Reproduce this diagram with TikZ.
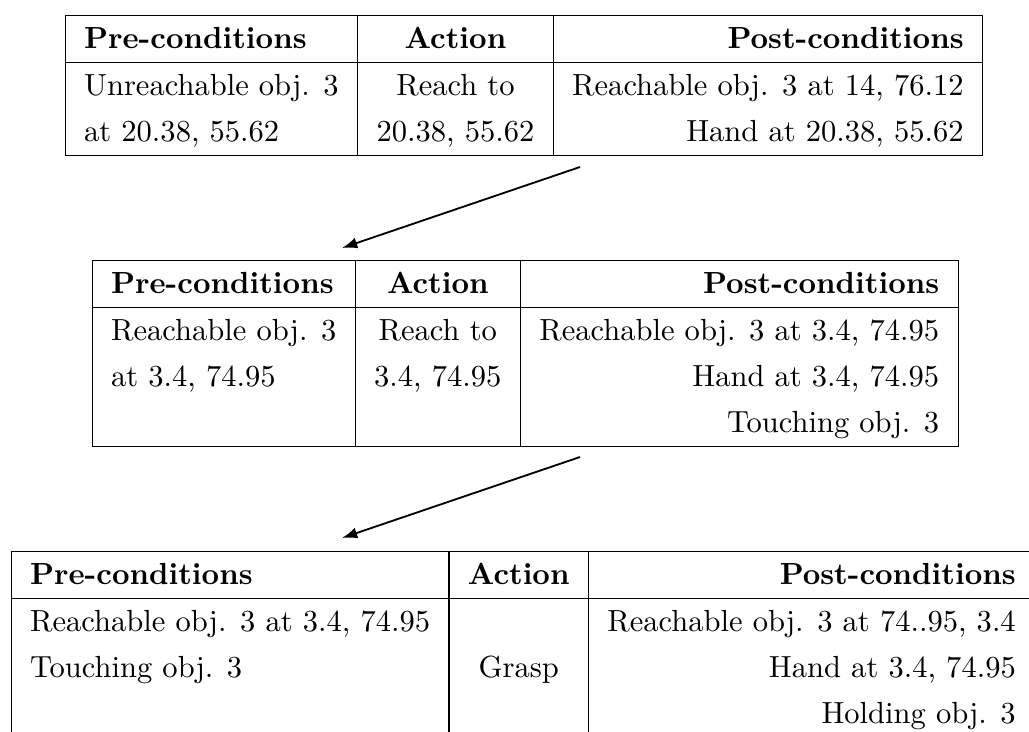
\documentclass[tikz,border=0pt]{standalone}
\usepackage{array}
\usetikzlibrary{arrows.meta}
\renewcommand{\arraystretch}{1.255}

\begin{document}
\begin{tikzpicture}[x=0.3275pt,y=-0.3275pt,
    plan/.style={inner sep=0pt, anchor=north west},
    step arrow/.style={semithick, -{Latex[length=5pt,width=3.6pt]}}]
\useasboundingbox (0,0) rectangle (1029,731);

            \node[plan] (t1) at (64,14) {\begin{tabular}{|l|c|r|}
                \hline
                \textbf{Pre-conditions} & \textbf{Action} & \textbf{Post-conditions}\\
                \hline
                Unreachable obj. 3 & Reach to & Reachable obj. 3 at 14, 76.12\\
                at 20.38, 55.62 & 20.38, 55.62 & Hand at 20.38, 55.62\\
                \hline
            \end{tabular}};

            \node[plan] (t2) at (91,259) {\begin{tabular}{|l|c|r|}
                \hline
                \textbf{Pre-conditions} & \textbf{Action} & \textbf{Post-conditions}\\
                \hline
                Reachable obj. 3 & Reach to & Reachable obj. 3 at 3.4, 74.95\\
                at 3.4, 74.95 & 3.4, 74.95 & Hand at 3.4, 74.95\\
                 & & Touching obj. 3\\
                \hline
            \end{tabular}};

            \node[plan] (t3) at (10,550) {\begin{tabular}{|l|c|r|}
                \hline
                \textbf{Pre-conditions} & \textbf{Action} & \textbf{Post-conditions}\\
                \hline
                Reachable obj. 3 at 3.4, 74.95 & & Reachable obj. 3 at 74..95, 3.4\\
                Touching obj. 3 & Grasp & Hand at 3.4, 74.95\\
                 & & Holding obj. 3\\
                \hline
            \end{tabular}};

            \coordinate (from1) at (580,167);
            \coordinate (to1) at (342,248);
            \coordinate (from2) at (580,457);
            \coordinate (to2) at (342,538);

            \draw[step arrow] (from1) -- (to1);
            \draw[step arrow] (from2) -- (to2);
        \end{tikzpicture}
\end{document}
